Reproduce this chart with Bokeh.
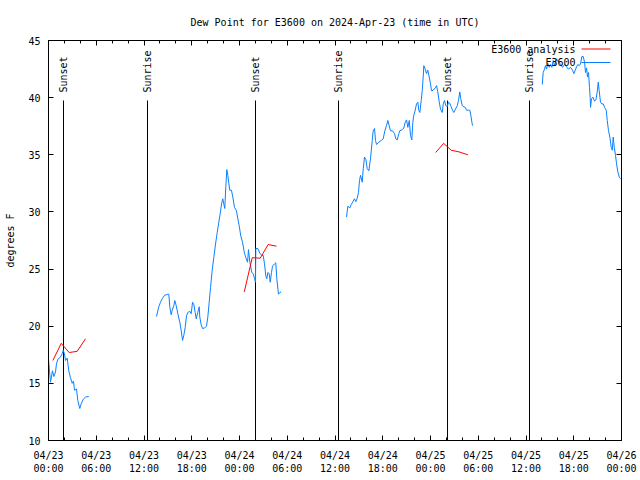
import math
from bokeh.plotting import figure
from bokeh.models import FixedTicker, LinearAxis, Label, Range1d
from bokeh.embed import file_html
from bokeh.resources import INLINE

TITLE = "Dew Point for E3600 on 2024-Apr-23 (time in UTC)"
Y_LABEL = "degrees F"
SERIES_ANALYSIS = "E3600 analysis"
SERIES_OBS = "E3600"

# hours since 2024-04-23 00:00 UTC
obs1_h = [0.0, 0.25, 0.5, 0.67, 0.88, 1.0, 1.17, 1.5, 1.72, 1.85, 2.0, 2.14, 2.35, 2.55,
          2.76, 2.98, 3.14, 3.27, 3.52, 3.68, 3.93, 4.1, 4.36, 4.65, 5.06]
obs1_v = [17.1, 15.1, 16.1, 15.6, 16.0, 16.7, 17.1, 17.3, 17.6, 17.9, 17.6, 17.0, 17.2, 16.1,
          15.5, 15.0, 15.2, 14.4, 14.5, 13.5, 12.8, 13.2, 13.6, 13.8, 13.85]

obs2_h = [13.57, 13.86, 14.07, 14.29, 14.58, 14.99, 15.12, 15.24, 15.42, 15.54, 15.75, 15.87,
          16.05, 16.25, 16.5, 16.68, 16.84, 17.0, 17.18, 17.34, 17.5, 17.76, 17.93, 18.1,
          18.26, 18.43, 18.56, 18.76, 18.94, 19.01, 19.19, 19.35, 19.6, 19.85, 20.02, 20.19,
          20.36, 20.57, 20.77, 20.99, 21.2, 21.4, 21.61, 21.74, 21.9, 22.03, 22.15, 22.28,
          22.41, 22.53, 22.66, 22.78, 22.99, 23.16, 23.37, 23.62, 23.79, 23.96, 24.16, 24.38,
          24.59, 24.79, 25.01, 25.13, 25.3, 25.55, 25.72, 25.89, 26.01, 26.05, 26.3, 26.55,
          26.8, 26.98, 27.14, 27.31, 27.43, 27.56, 27.73, 27.86, 28.02, 28.15, 28.4, 28.56,
          28.69, 28.9, 29.07, 29.24]
obs2_v = [20.85, 21.7, 22.1, 22.4, 22.7, 22.8, 22.8, 21.7, 21.0, 21.4, 21.8, 22.25,
          21.8, 21.1, 20.35, 19.6, 18.75, 19.2, 19.9, 20.9, 21.2, 21.3, 21.1, 22.1,
          21.9, 21.2, 20.65, 21.2, 21.7, 20.8, 20.1, 19.8, 19.85, 20.0, 20.8, 22.1,
          23.4, 24.9, 26.0, 27.2, 28.2, 29.1, 30.0, 30.7, 31.15, 30.7, 30.3, 32.2,
          33.7, 33.2, 32.5, 31.9, 31.9, 31.3, 30.4, 30.1, 29.4, 28.8, 27.9, 27.35,
          26.5, 26.0, 25.6, 26.7, 25.6, 24.7, 24.6, 24.15, 23.85, 26.8, 26.8, 26.4,
          26.2, 26.2, 25.45, 24.4, 24.15, 24.7, 24.6, 23.85, 24.7, 25.25, 25.45, 25.55,
          24.15, 22.8, 22.95, 23.0]

obs3_h = [37.45, 37.61, 37.86, 38.04, 38.29, 38.45, 38.62, 38.79, 38.95, 39.08, 39.21, 39.42,
          39.55, 39.71, 39.87, 40.05, 40.25, 40.46, 40.68, 40.8, 40.97, 41.09, 41.22, 41.51,
          41.81, 42.06, 42.26, 42.47, 42.64, 42.81, 42.98, 43.23, 43.48, 43.64, 43.82, 44.02,
          44.14, 44.45, 44.65, 44.82, 44.99, 45.15, 45.33, 45.49, 45.65, 45.78, 45.9, 46.08,
          46.24, 46.41, 46.53, 46.66, 46.83, 46.96, 47.09, 47.16, 47.34, 47.5, 47.66, 47.84,
          48.0, 48.13, 48.34, 48.59, 48.76, 48.92, 49.1, 49.26, 49.47, 49.6, 49.76, 49.92,
          50.1, 50.26, 50.43, 50.6, 50.77, 50.93, 51.14, 51.36, 51.52, 51.68, 51.81, 51.99,
          52.19, 52.37, 52.53, 52.78, 52.94, 53.07, 53.2, 53.28]
obs3_v = [29.55, 30.5, 30.35, 30.65, 30.95, 31.15, 30.9, 31.2, 31.7, 32.75, 33.2, 32.6,
          33.8, 34.8, 34.6, 33.8, 33.6, 34.65, 36.25, 37.1, 37.3, 36.25, 35.9, 36.1,
          36.25, 36.4, 37.1, 37.55, 38.0, 37.55, 37.1, 37.1, 36.85, 36.4, 36.3, 36.85,
          37.1, 37.2, 37.35, 37.85, 38.05, 37.4, 38.0, 36.7, 36.3, 37.85, 38.45, 38.9,
          39.45, 39.6, 38.9, 38.7, 39.75, 40.6, 41.9, 42.8, 42.5, 42.1, 42.4, 41.8,
          41.2, 40.6, 40.65, 40.85, 41.05, 40.5, 39.6, 39.0, 38.7, 39.45, 39.75, 39.3,
          39.2, 39.6, 39.5, 39.2, 38.9, 38.7, 39.0, 39.3, 39.75, 40.5, 39.9, 39.3,
          39.2, 39.15, 38.9, 38.9, 38.9, 38.45, 37.85, 37.55]

obs4_h = [62.04, 62.16, 62.33, 62.45, 62.58, 62.74, 62.92, 63.08, 63.24, 63.42, 63.58, 63.84,
          64.09, 64.34, 64.59, 64.84, 65.09, 65.34, 65.6, 65.85, 66.01, 66.19, 66.35, 66.51,
          66.69, 66.85, 67.02, 67.19, 67.36, 67.48, 67.61, 67.73, 67.86, 67.98, 68.07, 68.11,
          68.23, 68.4, 68.61, 68.78, 68.95, 69.08, 69.2, 69.36, 69.53, 69.71, 69.87, 70.08,
          70.21, 70.37, 70.54, 70.71, 70.84, 70.96, 71.09, 71.25, 71.38, 71.54, 71.72, 71.88]
obs4_v = [41.15, 42.2, 42.5, 42.8, 42.5, 43.0, 42.65, 42.9, 42.65, 43.25, 42.8, 43.4,
          43.1, 42.95, 42.65, 42.9, 42.7, 42.5, 42.65, 42.4, 42.1, 42.4, 42.7, 42.9,
          42.8, 42.95, 43.6, 43.6, 43.1, 42.2, 42.6, 41.8, 42.2, 40.9, 39.9, 39.15,
          39.9, 40.05, 39.7, 39.8, 40.5, 41.35, 40.6, 39.6, 39.45, 39.45, 39.15, 38.9,
          38.0, 37.1, 36.55, 35.65, 35.4, 36.55, 35.65, 34.95, 34.2, 33.5, 33.05, 32.9]

ana1_h = [0.55, 1.6, 2.6, 3.6, 4.65]
ana1_v = [17.0, 18.5, 17.7, 17.8, 18.9]
ana2_h = [24.6, 25.6, 26.6, 27.6, 28.65]
ana2_v = [23.0, 26.0, 25.95, 27.15, 27.0]
ana3_h = [48.65, 49.65, 50.6, 51.6, 52.7]
ana3_v = [35.2, 36.0, 35.4, 35.25, 35.0]

sun_h = [1.885, 12.44, 26.01, 36.44, 50.14, 60.44]
sun_names = ["Sunset", "Sunrise", "Sunset", "Sunrise", "Sunset", "Sunrise"]

x_ticks = [0, 6, 12, 18, 24, 30, 36, 42, 48, 54, 60, 66, 72]
x_tick_labels = ["04/23\n00:00", "04/23\n06:00", "04/23\n12:00", "04/23\n18:00",
                 "04/24\n00:00", "04/24\n06:00", "04/24\n12:00", "04/24\n18:00",
                 "04/25\n00:00", "04/25\n06:00", "04/25\n12:00", "04/25\n18:00",
                 "04/26\n00:00"]
y_ticks = [10, 15, 20, 25, 30, 35, 40, 45]

RED = "#ff0000"
BLUE = "#0a80ff"
FONT = "DejaVu Sans Mono"
FS = "10px"

X0, X1 = 0, 72
Y0, Y1 = 10, 45
FW, FH = 573, 400  # frame size in px


def xpx(px):  # frame-relative pixel -> data x
    return X0 + px * (X1 - X0) / FW


def ypx(py):  # frame-relative pixel from top -> data y
    return Y1 - py * (Y1 - Y0) / FH


p = figure(width=640, height=480, output_backend="svg", toolbar_location=None,
           x_range=Range1d(X0, X1), y_range=Range1d(Y0, Y1),
           min_border_left=48, min_border_right=19, min_border_top=40, min_border_bottom=40)
p.title.text = TITLE
p.title.align = "center"
p.title.text_font = FONT
p.title.text_font_size = FS
p.title.text_font_style = "normal"
p.title.text_color = "black"
p.title.standoff = 25
p.grid.visible = False
p.outline_line_color = "black"
p.outline_line_width = 1
p.background_fill_color = "white"
p.border_fill_color = "white"

minor_x = [h for h in range(0, 73, 2) if h % 6 != 0]
xt = FixedTicker(ticks=x_ticks, minor_ticks=minor_x)
yt = FixedTicker(ticks=y_ticks)


def style_axis(ax, labels=True):
    ax.axis_line_color = "black"
    ax.major_tick_line_color = "black"
    ax.minor_tick_line_color = "black"
    ax.major_tick_in = 5
    ax.major_tick_out = 0
    ax.minor_tick_in = 3
    ax.minor_tick_out = 0
    ax.major_label_text_font = FONT
    ax.major_label_text_font_size = FS if labels else "0px"
    ax.major_label_text_color = "black"
    if not labels:
        ax.major_label_standoff = 0


style_axis(p.xaxis[0])
p.xaxis[0].ticker = xt
p.xaxis[0].major_label_overrides = {t: l for t, l in zip(x_ticks, x_tick_labels)}
p.xaxis[0].major_label_standoff = 9

style_axis(p.yaxis[0])
p.yaxis[0].ticker = yt
p.yaxis[0].major_label_standoff = 8
p.yaxis[0].axis_label = Y_LABEL
p.yaxis[0].axis_label_text_font = FONT
p.yaxis[0].axis_label_text_font_size = FS
p.yaxis[0].axis_label_text_font_style = "normal"
p.yaxis[0].axis_label_text_color = "black"
p.yaxis[0].axis_label_standoff = 9

top = LinearAxis(ticker=xt)
style_axis(top, labels=False)
top.major_label_overrides = {t: "" for t in x_ticks}
p.add_layout(top, "above")
right = LinearAxis(ticker=yt)
style_axis(right, labels=False)
right.minor_tick_in = 0
right.major_label_overrides = {t: "" for t in y_ticks}
p.add_layout(right, "right")

# sunrise / sunset markers
for h, name in zip(sun_h, sun_names):
    p.segment(x0=[h], y0=[ypx(60)], x1=[h], y1=[Y0], line_color="black", line_width=1)
    p.add_layout(Label(x=h, y=ypx(52), text=name, angle=math.pi / 2,
                       text_align="left", text_baseline="middle",
                       text_font=FONT, text_font_size=FS, text_color="black"))

for hs, vs in [(obs1_h, obs1_v), (obs2_h, obs2_v), (obs3_h, obs3_v), (obs4_h, obs4_v)]:
    p.line(hs, vs, line_color=BLUE, line_width=1)
for hs, vs in [(ana1_h, ana1_v), (ana2_h, ana2_v), (ana3_h, ana3_v)]:
    p.line(hs, vs, line_color=RED, line_width=1)

# key (gnuplot style: text then sample on the right)
for i, (name, col) in enumerate([(SERIES_ANALYSIS, RED), (SERIES_OBS, BLUE)]):
    yy = ypx(8.5 + 13.5 * i)
    p.add_layout(Label(x=xpx(527), y=yy, text=name, text_align="right",
                       text_baseline="middle", text_font=FONT, text_font_size=FS,
                       text_color="black"))
    p.segment(x0=[xpx(533)], y0=[yy], x1=[xpx(562)], y1=[yy], line_color=col, line_width=1)

open("out.html", "w").write(file_html(p, INLINE))
